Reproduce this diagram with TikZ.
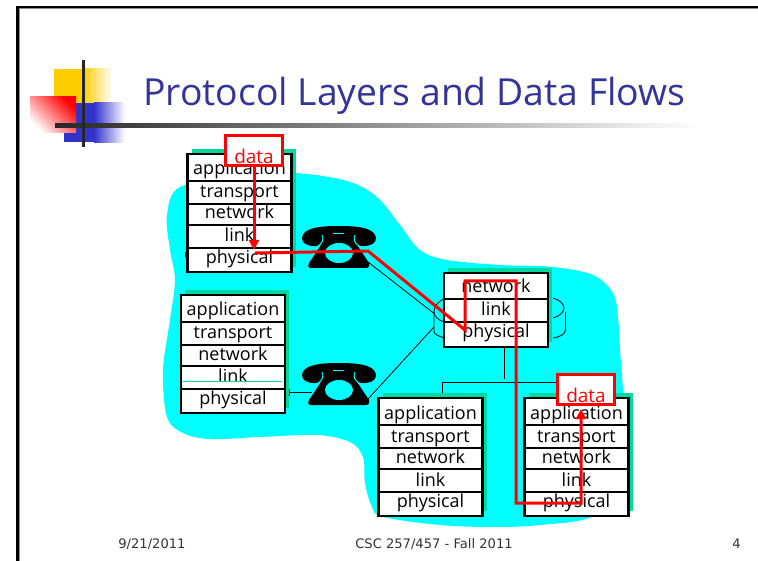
\documentclass[tikz,border=0pt]{standalone}
\usepackage{fontspec}
\setmainfont{Open Sans}
\newfontfamily\footfont{DejaVu Sans}
\usetikzlibrary{calc,positioning,arrows.meta,backgrounds}
\definecolor{titleblue}{HTML}{333399}
\definecolor{cloudcyan}{HTML}{00FFFF}
\definecolor{shadowgreen}{HTML}{00D8A0}
\definecolor{logoyellow}{HTML}{FFCC00}
\definecolor{logoblue}{HTML}{3333CC}
\tikzset{
    layer/.style={draw, fill=white, line width=2.5pt, minimum width=104, inner sep=0pt, outer sep=0pt, font=\fontsize{18}{18}\selectfont, text depth=0pt},
    applayer/.style={layer, minimum height=27, text height=15},
    translayer/.style={layer, minimum height=23, text height=11},
    netlayer/.style={layer, minimum height=21, text height=9},
    linklayer/.style={layer, minimum height=23, text height=11},
    phylayer/.style={layer, minimum height=24, text height=7},
    databox/.style={draw=red, fill=white, text=red, line width=2.5pt, minimum width=57, minimum height=30, inner sep=0pt, outer sep=0pt, font=\fontsize{19}{19}\selectfont, text height=26, text depth=0pt},
    wire/.style={black, line width=0.8pt},
    route/.style={red, line width=3pt},
    footer/.style={anchor=base, text=black!80, inner sep=0pt, font=\footfont\fontsize{13.1}{13.1}\selectfont},
    phone/.pic={
        \fill[black] (-37,12) .. controls (-36,2) and (-20,0) .. (0,0) .. controls (20,0) and (36,2) .. (37,12)
            .. controls (37,21) and (22,21) .. (18,19) -- (30,37) .. controls (31,41) and (29,42) .. (26,42)
            -- (-27,42) .. controls (-30,42) and (-32,41) .. (-30,37) -- (-18,19)
            .. controls (-22,21) and (-37,21) .. (-37,12) -- cycle;
        \draw[cloudcyan, line width=1pt] (-17,9) .. controls (-15,13) and (-16,18) .. (-23,21);
        \draw[cloudcyan, line width=1pt] (16,9) .. controls (14,13) and (15,18) .. (22,21);
        \draw[cloudcyan, line width=1pt] (-6,7.5) -- (5,7.5);
        \fill[cloudcyan] (0,27) ellipse [x radius=14, y radius=10];
        \coordinate (-out) at (29,36);
        \coordinate (-in) at (-27,29);
    },
}
\begin{document}
\begin{tikzpicture}[x=1pt, y=-1pt]
    \useasboundingbox (0,0) rectangle (758,561);

    % slide frame and logo
    \draw[black!45, line width=1pt] (19.3,561) -- (19.3,9) -- (758,9);
    \draw[black, line width=2.5pt] (17.3,561) -- (17.3,7.2) -- (758,7.2);
    \fill[logoyellow] (54,69) rectangle (83,104);
    \shade[left color=logoyellow, right color=white] (83,69) rectangle (112,104);
    \fill[logoblue] (64,103) rectangle (94,142);
    \shade[left color=logoblue, right color=white] (94,103) rectangle (125,143);
    \shade[left color=red, right color=white, shading angle=-45] (30,97) rectangle (76,133);
    \shade[left color=black!85, right color=white] (55,124) rectangle (700,128);
    \fill[black!85] (82,60) rectangle (85,147);

    \node[anchor=base west, inner sep=0pt, text=titleblue, font=\fontsize{37.3}{38}\selectfont] (title) at (143,106) {Protocol Layers and Data Flows};

    % sending host
    \node[applayer] (sendapp) at (239.5,167.5) {application};
    \node[translayer, below=0pt of sendapp] (sendtrans) {transport};
    \node[netlayer, below=0pt of sendtrans] (sendnet) {network};
    \node[linklayer, below=0pt of sendnet] (sendlink) {link};
    \node[phylayer, below=0pt of sendlink] (sendphy) {physical};

    % idle host
    \node[applayer] (idleapp) at (233,308.5) {application};
    \node[translayer, below=0pt of idleapp] (idletrans) {transport};
    \node[netlayer, below=0pt of idletrans] (idlenet) {network};
    \node[linklayer, below=0pt of idlenet] (idlelink) {link};
    \node[phylayer, below=0pt of idlelink] (idlephy) {physical};

    % router
    \node[netlayer, minimum height=26, text height=14] (routernet) at (496,286) {network};
    \node[linklayer, below=0pt of routernet] (routerlink) {link};
    \node[phylayer, below=0pt of routerlink, minimum height=25, text height=7] (routerphy) {physical};

    % bottom hosts
    \node[applayer] (lanapp) at (430.5,411.5) {application};
    \node[translayer, below=0pt of lanapp] (lantrans) {transport};
    \node[netlayer, below=0pt of lantrans] (lannet) {network};
    \node[linklayer, below=0pt of lannet] (lanlink) {link};
    \node[phylayer, below=0pt of lanlink] (lanphy) {physical};

    \node[applayer] (recvapp) at (576.5,411.5) {application};
    \node[translayer, below=0pt of recvapp] (recvtrans) {transport};
    \node[netlayer, below=0pt of recvtrans] (recvnet) {network};
    \node[linklayer, below=0pt of recvnet] (recvlink) {link};
    \node[phylayer, below=0pt of recvlink] (recvphy) {physical};

    \pic (phonea) at (339,226) {phone};
    \pic (phoneb) at (339,363) {phone};

    \coordinate (sendtick) at (184.5,255);
    \coordinate (idletick) at (289,392);
    \coordinate (routerin) at (433.5,313);
    \coordinate (routerlow) at (434,327);
    \coordinate (busdrop) at ($(routerphy.south)+(8,32)$);
    \coordinate (busleft) at (442,382);
    \coordinate (busright) at (576,382);

    \begin{scope}[on background layer]
        \fill[cloudcyan] plot[smooth cycle, tension=0.55] coordinates {
            (180,187) (240,178) (293,173) (347,181) (377,197) (400,225) (420,250) (447,260)
            (500,265) (553,267) (593,275) (613,293) (618,317) (620,350) (623,390) (625,430)
            (622,480) (593,516) (540,525) (493,527) (440,525) (383,517) (372,507) (365,483)
            (363,457) (350,442) (317,435) (260,437) (210,439) (183,433) (167,417) (163,370)
            (170,320) (175,280) (170,250) (167,215)};

        \draw[wire] (phonea-out) -- (routerin);
        \draw[wire] (phoneb-out) -- (routerlow);
        \draw[wire] (routerphy.south -| busdrop) -- (busdrop);
        \draw[wire] (lanapp.north -| busleft) -- (busleft) -- (busright) -- (recvapp.north -| busright);

        % router drum
        \draw[wire] (444,299) .. controls (437,302) and (434,307) .. (434,312) .. controls (434,316) and (438,320) .. (444,322);
        \draw[wire] (434,312) -- (434,331) .. controls (434,334) and (438,336) .. (444,338);
        \draw[wire] (553,298) .. controls (560,300) and (564,304) .. (564,308) .. controls (564,312) and (560,316) .. (553,318);
        \draw[wire] (565.5,312) -- (565.5,330) .. controls (565.5,334) and (560,337) .. (553,338);

        \foreach \topnode/\bottomnode in {sendapp/sendphy, idleapp/idlephy, routernet/routerphy, lanapp/lanphy, recvapp/recvphy}
            \fill[shadowgreen] ($(\topnode.north west)+(4,-5)$) rectangle ($(\bottomnode.south east)+(4,-5)$);
    \end{scope}

    \draw[wire, {Bar[width=5pt]}-] (sendtick) -- (sendphy.west |- sendtick);
    \draw[wire, {Bar[width=7pt]}-] (idletick) -- (phoneb-in);
    \draw[shadowgreen, line width=0.8pt] ($(idlelink.west)+(2,3.5)$) -- ($(idlelink.east)+(-3,3.5)$);

    % data path
    \node[databox] (dataa) at (254,150.5) {data};
    \node[databox] (datab) at (586,389.5) {data};

    \coordinate (sendtip) at (254,250);
    \coordinate (sendout) at (255,253);
    \coordinate (hopa) at (368,251);
    \coordinate (hopb) at (465,330);
    \coordinate (hopc) at (465,281);
    \coordinate (hopd) at (516,281);
    \coordinate (hope) at (516,503);
    \coordinate (hopf) at (581,503);
    \coordinate (recvtip) at (581,409);

    \draw[route, -{Triangle[length=10pt, width=10pt]}] (dataa.south) -- (sendtip);
    \draw[route, -{Triangle[length=10pt, width=10pt]}] (sendout) -- (hopa) -- (hopb) -- (hopc) -- (hopd) -- (hope) -- (hopf) -- (recvtip);

    % footer
    \node[footer] (footdate) at (152,548) {9/21/2011};
    \node[footer] (footname) at (434,548) {CSC 257/457 - Fall 2011};
    \node[footer] (footpage) at (736.5,548) {4};
\end{tikzpicture}
\end{document}
